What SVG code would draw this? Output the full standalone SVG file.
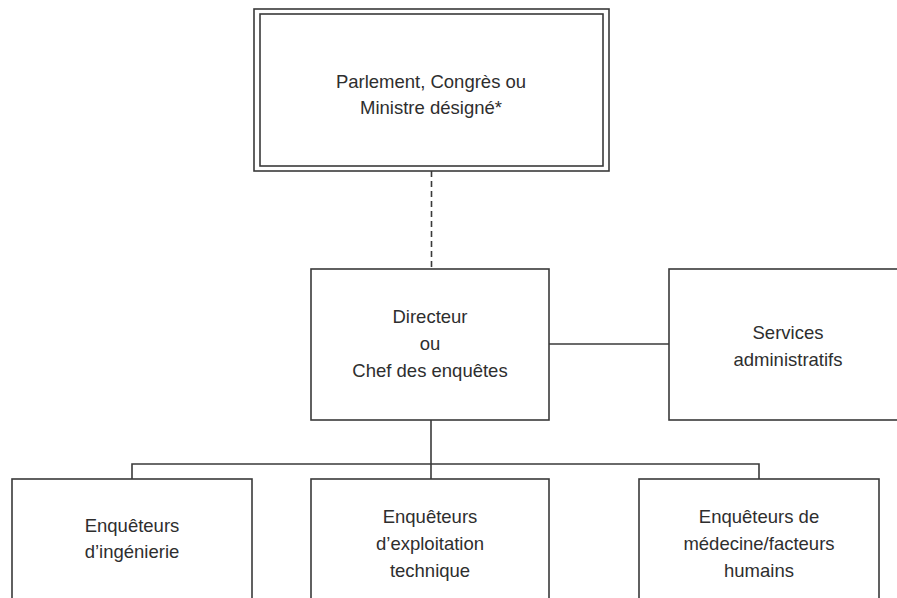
<svg xmlns="http://www.w3.org/2000/svg" width="897" height="598" viewBox="0 0 897 598">
<style>
.box{fill:#fff;stroke:#3a3a3a;stroke-width:1.6}
.ln{fill:none;stroke:#3a3a3a;stroke-width:1.6}
.t{font-family:"Liberation Sans",Arial,sans-serif;font-size:18.5px;fill:#2e2e2e;text-anchor:middle}
</style>
<rect width="897" height="598" fill="#fff"/>
<g id="connectors">
<line class="ln" x1="431.5" y1="171" x2="431.5" y2="269" stroke-dasharray="6,4"/>
<line class="ln" x1="549" y1="344" x2="669" y2="344"/>
<line class="ln" x1="431" y1="420" x2="431" y2="479"/>
<polyline class="ln" points="132,479 132,464 759,464 759,479"/>
</g>
<g id="parlement">
<rect class="box" x="254" y="9" width="355" height="162"/>
<rect class="box" x="260" y="14" width="343" height="152"/>
<text class="t" x="431" y="88">Parlement, Congrès ou</text>
<text class="t" x="431" y="114">Ministre désigné*</text>
</g>
<g id="directeur">
<rect class="box" x="311" y="269" width="238" height="151"/>
<text class="t" x="430" y="323">Directeur</text>
<text class="t" x="430" y="350">ou</text>
<text class="t" x="430" y="377">Chef des enquêtes</text>
</g>
<g id="services">
<rect class="box" x="669" y="269" width="240" height="151"/>
<text class="t" x="788" y="339">Services</text>
<text class="t" x="788" y="366">administratifs</text>
</g>
<g id="ingenierie">
<rect class="box" x="12" y="479" width="240" height="130"/>
<text class="t" x="132" y="532">Enquêteurs</text>
<text class="t" x="132" y="558">d’ingénierie</text>
</g>
<g id="exploitation">
<rect class="box" x="311" y="479" width="238" height="130"/>
<text class="t" x="430" y="523">Enquêteurs</text>
<text class="t" x="430" y="550">d’exploitation</text>
<text class="t" x="430" y="577">technique</text>
</g>
<g id="medecine">
<rect class="box" x="639" y="479" width="240" height="130"/>
<text class="t" x="759" y="523">Enquêteurs de</text>
<text class="t" x="759" y="550">médecine/facteurs</text>
<text class="t" x="759" y="577">humains</text>
</g>
</svg>
